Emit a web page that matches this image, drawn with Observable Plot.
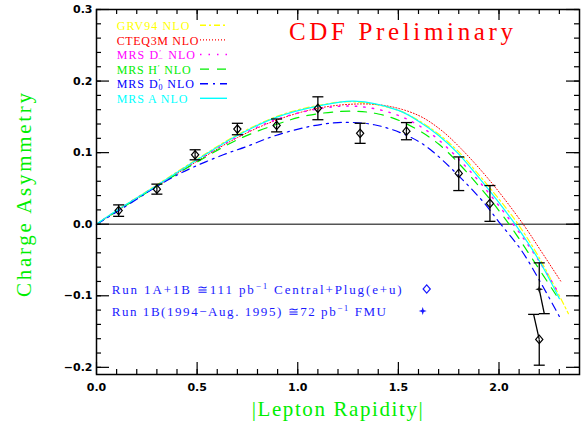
<!DOCTYPE html>
<html>
<head>
<meta charset="utf-8">
<script src="https://cdn.jsdelivr.net/npm/d3@7"></script>
<script src="https://cdn.jsdelivr.net/npm/@observablehq/plot@0.6"></script>
<style>
html,body{margin:0;padding:0;background:#fff;}
#chart svg{display:block;}
</style>
</head>
<body>
<div id="chart"></div>
<script>
// ---------------- Data ----------------
// Run 1A+1B Central+Plug(e+u) measurements (open diamonds)
const ccpX       = [0.11, 0.30, 0.49, 0.70, 0.895, 1.10, 1.31, 1.54, 1.80, 1.955, 2.20];
const ccpY       = [0.019, 0.049, 0.097, 0.133, 0.138, 0.162, 0.127, 0.130, 0.071, 0.029, -0.161];
const ccpHi      = [0.027, 0.056, 0.104, 0.141, 0.147, 0.178, 0.141, 0.142, 0.094, 0.054, -0.126];
const ccpLo      = [0.011, 0.042, 0.090, 0.125, 0.129, 0.146, 0.113, 0.118, 0.047, 0.004, -0.197];
const ccpHiShift = [0, 0, 0, 0, 0, 0, 0, 0, 0, 0, -0.028];
const ccpLoShift = [0, 0, 0, 0, 0, 0, 0, 0, 0, 0, 0];
// Run 1B FMU measurement (star)
const fmuX = [2.20], fmuY = [-0.091], fmuHi = [-0.054], fmuLo = [-0.125];
const fmuHiShift = [0], fmuLoShift = [0.025];

// NLO theory curves
const grvX  = [0, 0.1, 0.3, 0.5, 0.7, 0.9, 1.1, 1.28, 1.5, 1.6, 1.7, 1.8, 1.9, 2.0, 2.095, 2.2, 2.345];
const grvY  = [0, 0.019, 0.055, 0.091, 0.125, 0.151, 0.166, 0.171, 0.159, 0.145, 0.126, 0.101, 0.069, 0.035, 0, -0.047, -0.125];
const cteqX = [0, 0.1, 0.3, 0.5, 0.7, 0.9, 1.1, 1.3, 1.45, 1.6, 1.71, 1.81, 1.96, 2.12, 2.21, 2.31];
const cteqY = [0, 0.018, 0.053, 0.088, 0.121, 0.146, 0.162, 0.168, 0.165, 0.152, 0.132, 0.106, 0.059, 0, -0.038, -0.081];
const mrsDmX = [0, 0.1, 0.3, 0.5, 0.7, 0.9, 1.1, 1.28, 1.48, 1.65, 1.85, 2.07, 2.2, 2.3];
const mrsDmY = [0, 0.019, 0.054, 0.089, 0.122, 0.147, 0.161, 0.165, 0.154, 0.129, 0.076, 0, -0.052, -0.098];
const mrsHX = [0, 0.1, 0.3, 0.5, 0.7, 0.9, 1.05, 1.27, 1.4, 1.52, 1.7, 1.91, 2.05, 2.16, 2.3];
const mrsHY = [0, 0.018, 0.053, 0.087, 0.118, 0.140, 0.152, 0.158, 0.154, 0.143, 0.112, 0.050, 0, -0.046, -0.106];
const mrsD0X = [0, 0.1, 0.25, 0.35, 0.46, 0.63, 0.75, 0.88, 1.05, 1.2, 1.38, 1.55, 1.66, 1.91, 2.0, 2.11, 2.21, 2.3];
const mrsD0Y = [0, 0.017, 0.044, 0.061, 0.077, 0.097, 0.109, 0.123, 0.136, 0.142, 0.139, 0.123, 0.104, 0.035, 0.003, -0.036, -0.083, -0.129];
const mrsAX = [0, 0.1, 0.3, 0.5, 0.7, 0.9, 1.1, 1.28, 1.5, 1.6, 1.7, 1.8, 1.9, 2.0, 2.08, 2.2, 2.3];
const mrsAY = [0, 0.019, 0.054, 0.090, 0.124, 0.150, 0.165, 0.172, 0.159, 0.144, 0.124, 0.098, 0.065, 0.030, 0, -0.051, -0.104];

// Axis ticks
const xTicks = [0.0, 0.5, 1.0, 1.5, 2.0];
const yTicks = [-0.2, -0.1, 0.0, 0.1, 0.2, 0.3];
const xDomain = [0, 2.4];
const yDomain = [-0.21, 0.3];

// ---------------- Styles ----------------
const series = [
  {name: "GRV94", xs: grvX,   ys: grvY,   color: "#ffff00", dash: "6,3,2,3",  w: 1.2},
  {name: "CTEQ3M", xs: cteqX, ys: cteqY,  color: "#ff0000", dash: "1,2",      w: 1.0},
  {name: "MRS D-", xs: mrsDmX, ys: mrsDmY, color: "#ff00ff", dash: "1.5,7",   w: 1.4},
  {name: "MRS H", xs: mrsHX,  ys: mrsHY,  color: "#00ee00", dash: "9,8",      w: 1.2},
  {name: "MRS D0", xs: mrsD0X, ys: mrsD0Y, color: "#0000ff", dash: "8,5,2,5", w: 1.2},
  {name: "MRS A", xs: mrsAX,  ys: mrsAY,  color: "#00ffff", dash: null,       w: 1.2}
];

const W = 587, H = 424, mL = 96, mR = 8, mT = 9, mB = 50;
const FW = W - mL - mR, FH = H - mT - mB;

const ccp = ccpX.map((x, i) => ({x, y: ccpY[i], hi: ccpHi[i], lo: ccpLo[i], sh: ccpHiShift[i], sl: ccpLoShift[i]}));
const fmu = fmuX.map((x, i) => ({x, y: fmuY[i], hi: fmuHi[i], lo: fmuLo[i], sh: fmuHiShift[i], sl: fmuLoShift[i]}));

const diamondSym = {draw(c) { c.moveTo(0, -4.2); c.lineTo(3.6, 0); c.lineTo(0, 4.2); c.lineTo(-3.6, 0); c.closePath(); }};
const capSym = {draw(c) { c.moveTo(-5.5, 0); c.lineTo(5.5, 0); }};
const starSym = {draw(c) { c.moveTo(0, -4); c.lineTo(1, -1); c.lineTo(4, 0); c.lineTo(1, 1); c.lineTo(0, 4); c.lineTo(-1, 1); c.lineTo(-4, 0); c.lineTo(-1, -1); c.closePath(); }};

const xMinor = d3.range(1, 24).map(i => i / 10);
const yMinor = d3.range(-10, 16).map(i => i / 50);

const marks = [];
marks.push(Plot.ruleY([0], {stroke: "#555", strokeWidth: 1.5}));
for (const s of series) {
  const rows = s.xs.map((x, i) => ({x, y: s.ys[i]}));
  marks.push(Plot.line(rows, {x: "x", y: "y", stroke: s.color, strokeWidth: s.w, strokeDasharray: s.dash, curve: "catmull-rom"}));
}
for (const set of [ccp, fmu]) {
  marks.push(Plot.link(set, {x1: "x", y1: "y", x2: d => d.x + d.sh, y2: "hi", stroke: "black", strokeWidth: 1.3}));
  marks.push(Plot.link(set, {x1: "x", y1: "y", x2: d => d.x + d.sl, y2: "lo", stroke: "black", strokeWidth: 1.3}));
  marks.push(Plot.dot(set, {x: d => d.x + d.sh, y: "hi", symbol: capSym, stroke: "black", strokeWidth: 1.3, fill: "none"}));
  marks.push(Plot.dot(set, {x: d => d.x + d.sl, y: "lo", symbol: capSym, stroke: "black", strokeWidth: 1.3, fill: "none"}));
}
marks.push(Plot.dot(ccp, {x: "x", y: "y", symbol: diamondSym, stroke: "black", strokeWidth: 1.2, fill: "none"}));
marks.push(Plot.dot(fmu, {x: "x", y: "y", symbol: starSym, fill: "#111", stroke: "none"}));

// frame + inward ticks on all sides
const tk = {stroke: "black", strokeWidth: 1.2};
marks.push(Plot.frame({stroke: "black", strokeWidth: 1.5}));
marks.push(Plot.tickX(xTicks, {x: d => d, insetTop: FH - 12, ...tk}));
marks.push(Plot.tickX(xMinor, {x: d => d, insetTop: FH - 5, ...tk}));
marks.push(Plot.tickX(xTicks, {x: d => d, insetBottom: FH - 11, ...tk}));
marks.push(Plot.tickX(xMinor, {x: d => d, insetBottom: FH - 5, ...tk}));
marks.push(Plot.tickY(yTicks, {y: d => d, insetRight: FW - 13, ...tk}));
marks.push(Plot.tickY(yMinor, {y: d => d, insetRight: FW - 5, ...tk}));
marks.push(Plot.tickY(yTicks, {y: d => d, insetLeft: FW - 13, ...tk}));
marks.push(Plot.tickY(yMinor, {y: d => d, insetLeft: FW - 5, ...tk}));

const tickFont = {fontSize: 11, fontWeight: "bold", fontFamily: "DejaVu Sans", fill: "black"};
marks.push(Plot.axisX({ticks: xTicks, tickSize: 0, tickPadding: 9, tickFormat: d3.format(".1f"), label: null, ...tickFont}));
marks.push(Plot.axisY({ticks: yTicks, tickSize: 0, tickPadding: 4, tickFormat: d3.format(".1f"), label: null, ...tickFont}));

// annotations: title, axis labels, legends
function addText(g, o) {
  const t = g.append("text")
    .attr("x", o.x).attr("y", o.y)
    .attr("text-anchor", "start")
    .attr("fill", o.color)
    .attr("font-family", o.family || "Liberation Serif")
    .attr("font-size", o.size)
    .attr("textLength", o.length)
    .attr("lengthAdjust", "spacing");
  if (o.transform) t.attr("transform", o.transform);
  for (const p of o.parts) {
    const ts = t.append("tspan").text(p.t);
    if (p.dy) ts.attr("dy", p.dy);
    if (p.dx) ts.attr("dx", p.dx);
    if (p.size) ts.attr("font-size", p.size);
  }
  return t;
}

const legendTop = [
  {parts: [{t: "GRV94 NLO"}], length: 72.6},
  {parts: [{t: "CTEQ3M NLO"}], length: 81.6},
  {parts: [{t: "MRS D"}, {t: "′", dy: -3, size: 8.5}, {t: "−", dx: -4, dy: 4.5, size: 8.5}, {t: " NLO", dy: -1.5}], length: 78.3},
  {parts: [{t: "MRS H"}, {t: "′", dy: -3, size: 8.5}, {t: " NLO", dy: 3}], length: 74},
  {parts: [{t: "MRS D"}, {t: "′", dy: -3, size: 8.5}, {t: "0", dx: -3, dy: 4.5, size: 8}, {t: " NLO", dy: -1.5}], length: 77.3},
  {parts: [{t: "MRS A NLO"}], length: 70.6}
];

function annotations(index, scales, values, dims) {
  const g = d3.create("svg:g").attr("text-anchor", "start");
  const L = dims.marginLeft, T = dims.marginTop;
  const Bt = dims.height - dims.marginBottom;
  // title
  addText(g, {x: L + 193, y: T + 31, size: 25, color: "#ff0000", length: 224, parts: [{t: "CDF Preliminary"}]});
  // axis labels
  addText(g, {x: -102, y: 0, transform: `translate(${L - 65},${T + 186}) rotate(-90)`, size: 21, color: "#00ee00", length: 204, parts: [{t: "Charge Asymmetry"}]});
  addText(g, {x: L + 155.7, y: Bt + 42, size: 21, color: "#00ee00", length: 171, parts: [{t: "|Lepton Rapidity|"}]});
  // theory legend
  legendTop.forEach((e, i) => {
    const mid = T + 16.8 + i * 14.6;
    const s = series[i];
    addText(g, {x: L + 20.7, y: mid + 4.2, size: 12, color: s.color, length: e.length, parts: e.parts});
    const ln = g.append("line").attr("x1", L + 104).attr("x2", L + 131).attr("y1", mid - 0.5).attr("y2", mid - 0.5)
      .attr("stroke", s.color).attr("stroke-width", s.w + 0.2);
    if (s.dash) ln.attr("stroke-dasharray", s.dash);
  });
  // data legend
  const blue = "#1a1aff";
  addText(g, {x: L + 15.7, y: T + 284.5, size: 13, color: blue, length: 290,
    parts: [{t: "Run 1A+1B ≅111 pb"}, {t: "−1", dy: -5, size: 9}, {t: " Central+Plug(e+u)", dy: 5}]});
  addText(g, {x: L + 15.7, y: T + 307, size: 13, color: blue, length: 274.3,
    parts: [{t: "Run 1B(1994−Aug. 1995) ≅72 pb"}, {t: "−1", dy: -5, size: 9}, {t: " FMU", dy: 5}]});
  g.append("path").attr("transform", `translate(${L + 330.7},${T + 280})`)
    .attr("d", d3.symbol(diamondSym)()).attr("fill", "none").attr("stroke", blue).attr("stroke-width", 1.2);
  g.append("path").attr("transform", `translate(${L + 326.7},${T + 302})`)
    .attr("d", d3.symbol(starSym)()).attr("fill", blue);
  return g.node();
}
marks.push(annotations);

const plot = Plot.plot({
  width: W, height: H,
  marginLeft: mL, marginRight: mR, marginTop: mT, marginBottom: mB,
  x: {domain: xDomain, label: null},
  y: {domain: yDomain, label: null},
  style: {background: "#fff", fontFamily: "DejaVu Sans", overflow: "visible"},
  marks
});
document.getElementById("chart").appendChild(plot);
</script>
</body>
</html>
